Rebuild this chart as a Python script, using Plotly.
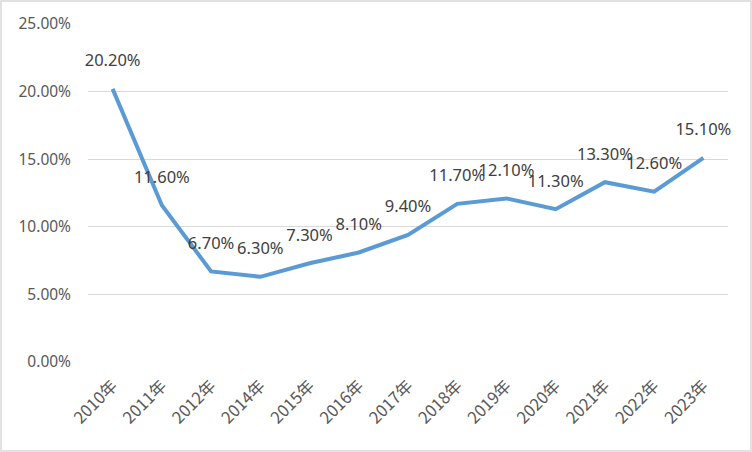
import plotly.graph_objects as go

years = ["2010年", "2011年", "2012年", "2014年", "2015年", "2016年", "2017年",
         "2018年", "2019年", "2020年", "2021年", "2022年", "2023年"]
rates = [20.2, 11.6, 6.7, 6.3, 7.3, 8.1, 9.4, 11.7, 12.1, 11.3, 13.3, 12.6, 15.1]
labels = [f"{v:.2f}%" for v in rates]
yticks = [0, 5, 10, 15, 20, 25]
ytick_text = [f"{v:.2f}%" for v in yticks]

W, H = 752, 452
ml, mr, mt, mb = 88, 24, 24, 90
FONT = "Noto Sans, DejaVu Sans, sans-serif"

fig = go.Figure()
fig.add_trace(go.Scatter(
    x=list(range(len(years))), y=rates, mode="lines+markers+text",
    line=dict(color="#5B9BD5", width=4),
    marker=dict(size=28, color="rgba(0,0,0,0)"),
    text=labels, textposition="top center",
    textfont=dict(family=FONT, size=16.5, color="#404040"),
    cliponaxis=False, hoverinfo="skip",
))

pw = W - ml - mr
ph = H - mt - mb
fig.add_shape(type="rect", xref="paper", yref="paper",
              x0=(-ml + 1) / pw, x1=(pw + mr - 1) / pw,
              y0=(-mb + 1) / ph, y1=(ph + mt - 1) / ph,
              line=dict(color="#D9D9D9", width=1.5), layer="below")

fig.update_layout(
    width=W, height=H, margin=dict(l=ml, r=mr, t=mt, b=mb, autoexpand=False),
    paper_bgcolor="white", plot_bgcolor="white", showlegend=False,
    font=dict(family=FONT, color="#595959"),
    xaxis=dict(range=[-0.5, len(years) - 0.5], tickmode="array",
               tickvals=list(range(len(years))), ticktext=years,
               tickangle=-45, showgrid=False, zeroline=False, showline=False,
               automargin=False, ticks="", ticklabelstandoff=10,
               tickfont=dict(size=16.5, color="#595959", family="Noto Sans CJK SC, Noto Sans, sans-serif")),
    yaxis=dict(range=[0, 25], tickmode="array", tickvals=yticks, ticktext=ytick_text,
               showgrid=True, gridcolor="#D9D9D9", gridwidth=1.3, zeroline=False,
               showline=False, ticks="", ticklabelstandoff=16, automargin=False,
               tickfont=dict(size=15.5, color="#595959")),
)

fig.write_html("out.html", config={"displayModeBar": False},
               post_script="document.body.style.margin='0';")
